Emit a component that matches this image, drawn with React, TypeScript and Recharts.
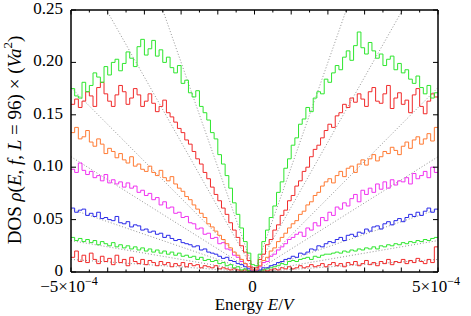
import { ComposedChart, Line, XAxis, YAxis, Label } from "recharts";

const E_MIN = -5e-4;
const E_MAX = 5e-4;
const BIN_WIDTH = 1e-5;

// DOS histograms in units of 1e-3, 100 bins from E = -5e-4 to 5e-4
const RED_LOW = [
  14, 20, 10, 16, 9, 18, 12, 8, 15, 10, 13, 7, 16, 9, 12, 6, 14, 10, 8, 12,
  7, 11, 9, 6, 10, 7, 9, 5, 8, 6, 9, 5, 8, 6, 7, 4, 6, 5, 4, 6,
  3, 4, 3, 2, 3, 2, 1, 2, 1, 1,
  1, 1, 2, 1, 2, 3, 2, 4, 3, 5, 3, 4, 6, 4, 5, 7, 5, 6, 8, 5,
  7, 9, 6, 8, 5, 9, 7, 10, 6, 8, 11, 7, 9, 6, 10, 8, 12, 7, 10, 9,
  12, 8, 11, 9, 13, 10, 8, 12, 9, 24,
];
const GREEN_LOW = [
  33, 30, 32, 29, 31, 28, 30, 26, 29, 27, 25, 28, 24, 26, 23, 25, 22, 24, 21, 23,
  20, 22, 19, 21, 18, 20, 17, 19, 16, 18, 15, 16, 14, 15, 12, 14, 11, 12, 10, 11,
  8, 9, 6, 7, 4, 5, 2, 3, 1, 1,
  1, 1, 2, 3, 4, 5, 6, 8, 7, 10, 11, 10, 12, 13, 14, 12, 15, 14, 16, 17,
  17, 18, 19, 18, 20, 19, 21, 20, 22, 21, 23, 22, 24, 22, 25, 24, 26, 25, 27, 26,
  28, 27, 29, 28, 30, 29, 31, 30, 32, 33,
];
const BLUE = [
  61, 57, 59, 60, 54, 56, 53, 57, 51, 52, 50, 49, 53, 47, 46, 48, 43, 45, 44, 40,
  41, 38, 39, 36, 37, 33, 35, 32, 30, 31, 28, 27, 26, 24, 25, 21, 22, 19, 18, 17,
  15, 13, 14, 11, 10, 8, 7, 5, 3, 1,
  1, 2, 4, 4, 6, 7, 9, 10, 12, 13, 15, 14, 18, 17, 19, 22, 21, 25, 24, 27,
  29, 28, 31, 33, 30, 35, 36, 34, 38, 37, 41, 39, 43, 44, 41, 46, 48, 45, 49, 51,
  48, 52, 55, 53, 57, 54, 58, 61, 57, 60,
];
const MAGENTA = [
  98, 95, 104, 97, 93, 96, 90, 92, 87, 93, 85, 88, 84, 86, 81, 85, 80, 82, 76, 78,
  73, 75, 69, 71, 64, 67, 61, 62, 56, 57, 52, 53, 47, 46, 41, 42, 36, 37, 32, 33,
  27, 28, 22, 21, 16, 14, 10, 8, 5, 2,
  2, 5, 9, 10, 15, 17, 21, 24, 27, 31, 33, 36, 38, 34, 42, 40, 47, 44, 52, 49,
  57, 54, 62, 60, 66, 63, 70, 74, 67, 78, 74, 80, 76, 84, 79, 86, 80, 88, 83, 87,
  86, 90, 84, 94, 89, 92, 96, 90, 100, 95,
];
const ORANGE = [
  133, 138, 127, 129, 135, 124, 120, 127, 122, 113, 118, 115, 109, 113, 107, 104, 110, 101, 103, 98,
  96, 101, 95, 92, 97, 90, 87, 91, 84, 80, 77, 72, 69, 64, 60, 56, 52, 46, 43, 39,
  35, 31, 27, 23, 19, 16, 12, 8, 5, 2,
  2, 6, 11, 14, 20, 23, 29, 33, 37, 42, 46, 49, 55, 58, 64, 67, 73, 76, 82, 86,
  89, 85, 92, 96, 91, 99, 101, 95, 103, 107, 102, 108, 112, 106, 110, 115, 113, 119, 116, 112,
  120, 124, 118, 126, 129, 122, 127, 132, 125, 138,
];
const RED = [
  160, 165, 157, 163, 172, 168, 158, 176, 181, 170, 163, 158, 169, 178, 172, 160, 166, 175, 169, 158,
  163, 170, 161, 153, 158, 164, 152, 148, 143, 137, 133, 126, 122, 115, 108, 103, 95, 89, 81, 74,
  68, 61, 55, 47, 40, 33, 25, 19, 11, 4,
  4, 12, 17, 26, 31, 40, 45, 54, 59, 68, 73, 82, 87, 96, 100, 110, 117, 121, 128, 135,
  141, 138, 149, 152, 160, 157, 166, 162, 170, 165, 158, 172, 176, 163, 161, 170, 178, 156, 166, 171,
  160, 164, 152, 169, 175, 158, 151, 163, 170, 167,
];
const GREEN = [
  175, 168, 166, 181, 172, 178, 190, 186, 181, 196, 188, 200, 203, 192, 199, 210, 204, 196, 215, 222,
  207, 213, 221, 206, 212, 200, 205, 195, 190, 197, 180, 183, 171, 167, 173, 158, 152, 145, 133, 127,
  112, 103, 92, 80, 66, 55, 42, 29, 18, 7,
  6, 17, 29, 40, 52, 63, 76, 86, 99, 108, 121, 128, 141, 146, 157, 153, 166, 172, 170, 184,
  181, 190, 197, 193, 205, 211, 202, 216, 229, 214, 208, 219, 211, 204, 208, 197, 203, 206, 193, 199,
  190, 193, 184, 180, 187, 176, 170, 178, 166, 171,
];

// linear fits through the origin: value at |E| = 5e-4
const FIT_AT_EDGE = [0.012, 0.03, 0.06, 0.11, 0.176, 0.31, 0.5];

const X_TICKS = [
  -5e-4, -4.5e-4, -4e-4, -3.5e-4, -3e-4, -2.5e-4, -2e-4, -1.5e-4, -1e-4, -0.5e-4, 0,
  0.5e-4, 1e-4, 1.5e-4, 2e-4, 2.5e-4, 3e-4, 3.5e-4, 4e-4, 4.5e-4, 5e-4,
];
const X_LABELS = [
  { value: -5e-4, mant: "\u22125\u00d710", exp: "\u22124" },
  { value: 0, mant: "0", exp: "" },
  { value: 5e-4, mant: "5\u00d710", exp: "\u22124" },
];
const Y_TICKS = [0, 0.05, 0.1, 0.15, 0.2, 0.25];

const SERIES = [
  { key: "redLow", values: RED_LOW, color: "#f02a2a" },
  { key: "greenLow", values: GREEN_LOW, color: "#2ee62e" },
  { key: "blue", values: BLUE, color: "#2a2ae8" },
  { key: "magenta", values: MAGENTA, color: "#f032f0" },
  { key: "orange", values: ORANGE, color: "#ff7a33" },
  { key: "red", values: RED, color: "#f02a2a" },
  { key: "green", values: GREEN, color: "#2ee62e" },
];

const rows = Array.from({ length: RED_LOW.length + 1 }, (_, i) => {
  const row: Record<string, number> = { x: +(E_MIN + i * BIN_WIDTH).toFixed(7) };
  SERIES.forEach((s) => {
    row[s.key] = s.values[Math.min(i, s.values.length - 1)] / 1000;
  });
  return row;
});

const FONT = "'Liberation Serif', 'Times New Roman', serif";

const isMajor = (v: number) => Math.abs(v * 1e4 - Math.round(v * 1e4)) < 1e-6;

const BottomTick = (props: any) => {
  const { x, y, payload } = props;
  const v = payload.value;
  const lab = X_LABELS.find((l) => Math.abs(l.value - v) < 1e-9);
  return (
    <g>
      <line x1={x} y1={y} x2={x} y2={y - (isMajor(v) ? 4.5 : 2.5)} stroke="#000" />
      {lab && (
        <text x={x - 2} y={y + 20} textAnchor="middle" fontFamily={FONT} fontSize={17} fill="#000">
          {lab.mant}
          {lab.exp && (
            <tspan dy={-7} fontSize={12}>
              {lab.exp}
            </tspan>
          )}
        </text>
      )}
    </g>
  );
};

const TopTick = (props: any) => {
  const { x, y, payload } = props;
  return <line x1={x} y1={y} x2={x} y2={y + (isMajor(payload.value) ? 4.5 : 2.5)} stroke="#000" />;
};

const LeftTick = (props: any) => {
  const { x, y, payload } = props;
  const v = payload.value;
  return (
    <g>
      <line x1={x} y1={y} x2={x + 5} y2={y} stroke="#000" />
      <text x={x - 8} y={y + 4} textAnchor="end" fontFamily={FONT} fontSize={17} fill="#000">
        {v === 0 ? "0" : v.toFixed(2)}
      </text>
    </g>
  );
};

const RightTick = (props: any) => {
  const { x, y } = props;
  return <line x1={x} y1={y} x2={x - 5} y2={y} stroke="#000" />;
};

const XTitle = () => (
  <text x={254} y={310} textAnchor="middle" fontFamily={FONT} fontSize={17} fill="#000">
    Energy <tspan fontStyle="italic">E</tspan>/<tspan fontStyle="italic">V</tspan>
  </text>
);

const YTitle = () => (
  <text
    x={14}
    y={140}
    transform="rotate(-90, 14, 140)"
    textAnchor="middle"
    dominantBaseline="central"
    fontFamily={FONT}
    fontSize={19}
    fill="#000"
  >
    DOS <tspan fontStyle="italic">ρ</tspan>(<tspan fontStyle="italic">E</tspan>,{" "}
    <tspan fontStyle="italic">f</tspan>, <tspan fontStyle="italic">L</tspan> = 96) × (
    <tspan fontStyle="italic">Va</tspan>
    <tspan dy={-7} fontSize={13}>
      2
    </tspan>
    <tspan dy={7}>)</tspan>
  </text>
);

const App = () => {
  return (
    <div style={{ position: "absolute", left: 0, top: 0, width: 471, height: 316, background: "#fff" }}>
      <ComposedChart width={471} height={316} data={rows} margin={{ top: 0, right: 0, bottom: 0, left: 0 }}>
        <XAxis
          dataKey="x"
          type="number"
          domain={[E_MIN, E_MAX]}
          allowDataOverflow
          ticks={X_TICKS}
          interval={0}
          tickSize={0}
          tickMargin={0}
          tick={BottomTick}
          height={44}
          axisLine={{ stroke: "#000", strokeWidth: 1.5 }}
        >
          <Label content={XTitle} />
        </XAxis>
        <XAxis
          xAxisId="top"
          orientation="top"
          dataKey="x"
          type="number"
          domain={[E_MIN, E_MAX]}
          allowDataOverflow
          ticks={X_TICKS}
          interval={0}
          tickSize={0}
          tickMargin={0}
          tick={TopTick}
          height={10}
          axisLine={{ stroke: "#000", strokeWidth: 1.5 }}
        />
        <YAxis
          type="number"
          domain={[0, 0.25]}
          allowDataOverflow
          ticks={Y_TICKS}
          interval={0}
          tickSize={0}
          tickMargin={0}
          tick={LeftTick}
          width={71}
          axisLine={{ stroke: "#000", strokeWidth: 1.5 }}
        >
          <Label content={YTitle} />
        </YAxis>
        <YAxis
          yAxisId="right"
          orientation="right"
          type="number"
          domain={[0, 0.25]}
          allowDataOverflow
          ticks={Y_TICKS}
          interval={0}
          tickSize={0}
          tickMargin={0}
          tick={RightTick}
          width={33}
          axisLine={{ stroke: "#000", strokeWidth: 1.5 }}
        />
        {FIT_AT_EDGE.map((v, i) => (
          <Line
            key={`fit${i}`}
            data={[
              { x: E_MIN, fit: v },
              { x: 0, fit: 0 },
              { x: E_MAX, fit: v },
            ]}
            dataKey="fit"
            type="linear"
            stroke="#777"
            strokeWidth={0.8}
            strokeDasharray="1 2"
            dot={false}
            isAnimationActive={false}
          />
        ))}
        {SERIES.map((s) => (
          <Line
            key={s.key}
            dataKey={s.key}
            type="stepAfter"
            stroke={s.color}
            strokeWidth={1}
            dot={false}
            isAnimationActive={false}
          />
        ))}
      </ComposedChart>
    </div>
  );
};

export default App;
